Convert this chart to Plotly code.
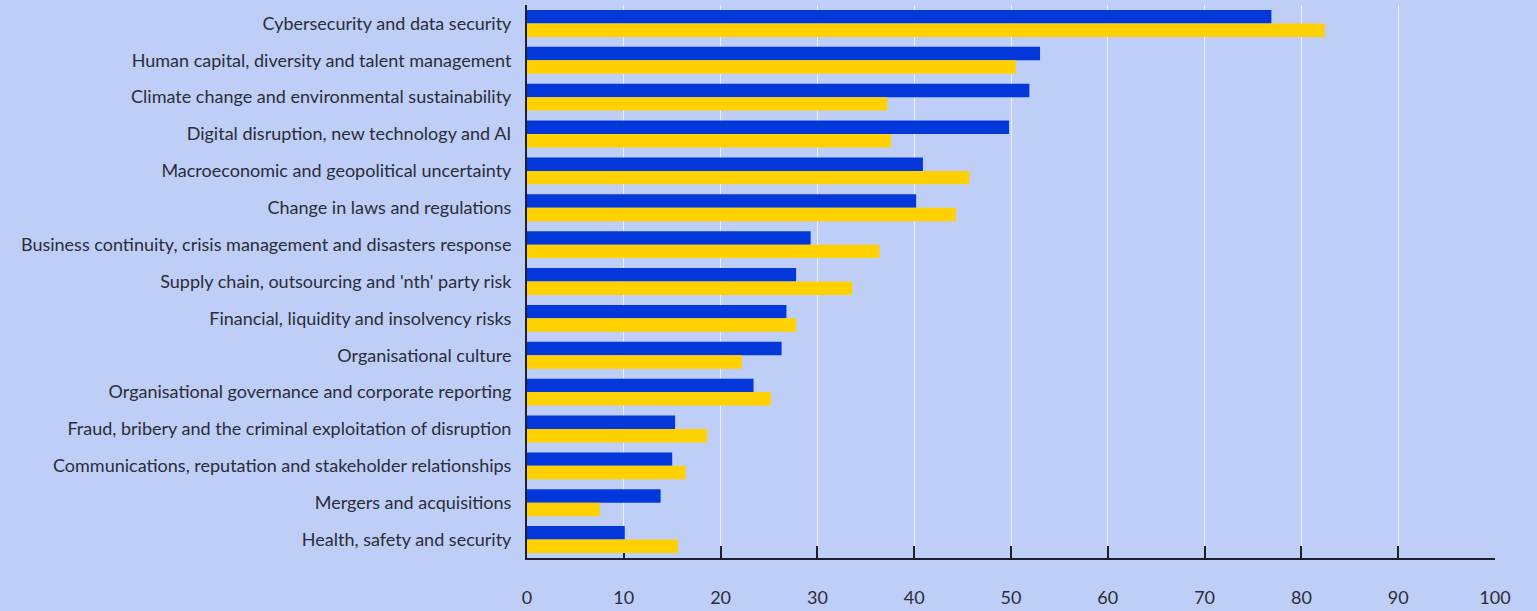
import plotly.graph_objects as go

categories = [
    "Cybersecurity and data security",
    "Human capital, diversity and talent management",
    "Climate change and environmental sustainability",
    "Digital disruption, new technology and AI",
    "Macroeconomic and geopolitical uncertainty",
    "Change in laws and regulations",
    "Business continuity, crisis management and disasters response",
    "Supply chain, outsourcing and 'nth' party risk",
    "Financial, liquidity and insolvency risks",
    "Organisational culture",
    "Organisational governance and corporate reporting",
    "Fraud, bribery and the criminal exploitation of disruption",
    "Communications, reputation and stakeholder relationships",
    "Mergers and acquisitions",
    "Health, safety and security",
]
blue_values = [76.9, 53.0, 51.9, 49.8, 40.9, 40.2, 29.3, 27.8, 26.8, 26.3, 23.4, 15.3, 15.0, 13.8, 10.1]
yellow_values = [82.4, 50.5, 37.2, 37.6, 45.7, 44.3, 36.4, 33.6, 27.8, 22.2, 25.2, 18.6, 16.4, 7.5, 15.6]
x_ticks = [0, 10, 20, 30, 40, 50, 60, 70, 80, 90, 100]

BG = "#BFCEF6"
TXT = "#2a2d3a"

fig = go.Figure()
fig.add_trace(go.Bar(y=categories, x=blue_values, orientation="h",
                     marker=dict(color="#0237DA", line=dict(width=0)), name="Blue"))
fig.add_trace(go.Bar(y=categories, x=yellow_values, orientation="h",
                     marker=dict(color="#FFD100", line=dict(width=0)), name="Yellow"))

fig.update_layout(
    width=1537, height=611,
    margin=dict(l=527, r=42, t=5, b=53, autoexpand=False),
    paper_bgcolor=BG, plot_bgcolor=BG,
    barmode="group", bargap=0.27, bargroupgap=0,
    showlegend=False,
    font=dict(family="Lato", color=TXT, size=18),
)
fig.update_xaxes(
    range=[0, 100], tickvals=x_ticks, ticktext=[str(v) for v in x_ticks],
    showgrid=True, gridcolor="rgba(255,255,255,0.7)", gridwidth=1,
    zeroline=False, showline=True, linecolor="#1e2030", linewidth=2,
    ticks="inside", ticklen=12, tickwidth=2, tickcolor="#1e2030",
    ticklabelstandoff=22, tickfont=dict(size=18, color=TXT),
    layer="below traces", automargin=False,
)
fig.update_yaxes(
    autorange="reversed", showline=True, linecolor="#1e2030", linewidth=2,
    showgrid=False, ticks="", ticklabelstandoff=10,
    tickfont=dict(size=18, color=TXT), automargin=False,
)
fig.write_html("out.html", config={"displayModeBar": False},
               post_script="document.body.style.margin='0';document.body.style.overflow='hidden';")
